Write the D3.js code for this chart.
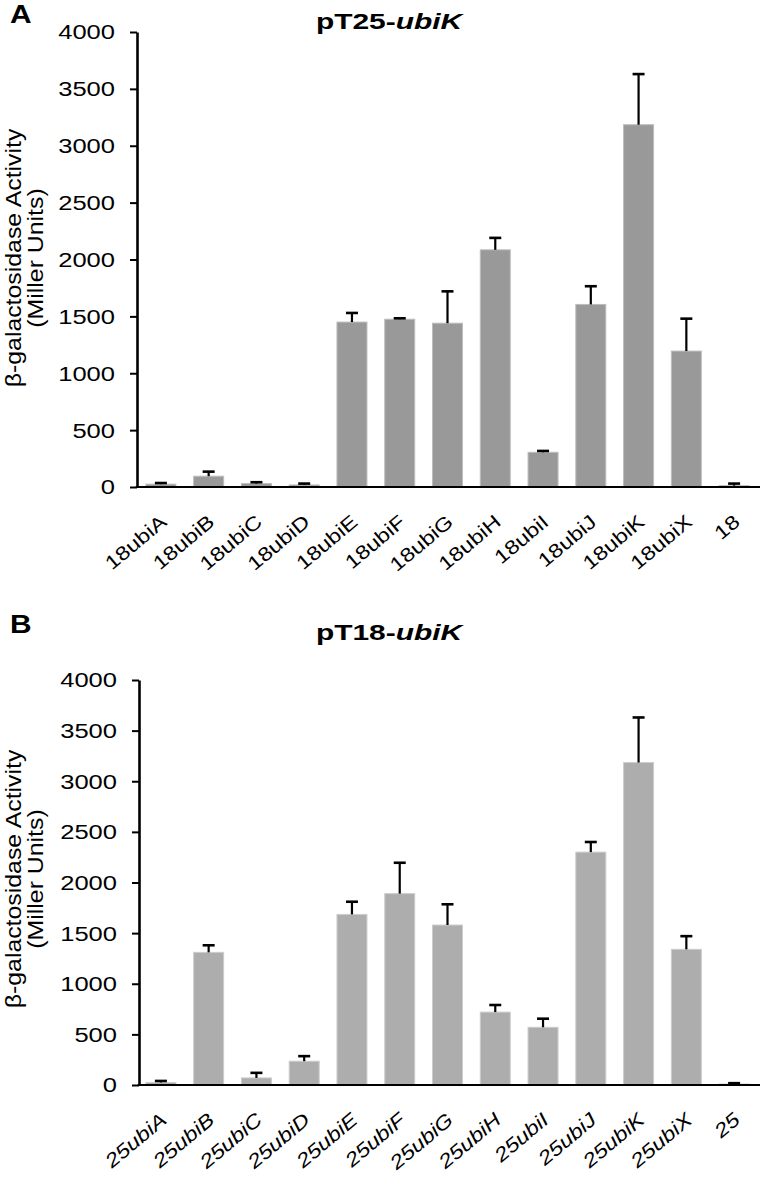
<!DOCTYPE html>
<html>
<head>
<meta charset="utf-8">
<script src="https://cdn.jsdelivr.net/npm/d3@7"></script>
<style>
  html, body { margin: 0; padding: 0; background: #fff; }
  svg { display: block; }
  text { font-family: "Liberation Sans", Arial, sans-serif; fill: #000; }
</style>
</head>
<body>
<svg id="chart" width="760" height="1179"></svg>
<script>
// ---- data ----
const categoriesA = ["18ubiA","18ubiB","18ubiC","18ubiD","18ubiE","18ubiF","18ubiG","18ubiH","18ubiI","18ubiJ","18ubiK","18ubiX","18"];
const valuesA = [25, 95, 30, 18, 1450, 1475, 1440, 2085, 305, 1605, 3185, 1195, 12];
const errorsA = [10, 40, 12, 12, 80, 8, 280, 105, 12, 160, 445, 285, 18];

const categoriesB = ["25ubiA","25ubiB","25ubiC","25ubiD","25ubiE","25ubiF","25ubiG","25ubiH","25ubiI","25ubiJ","25ubiK","25ubiX","25"];
const valuesB = [25, 1310, 70, 235, 1685, 1890, 1580, 720, 570, 2300, 3185, 1340, 10];
const errorsB = [15, 70, 50, 50, 125, 305, 205, 70, 85, 100, 445, 130, 8];

const yTicks = [0, 500, 1000, 1500, 2000, 2500, 3000, 3500, 4000];
const yLabelLines = ["\u03B2-galactosidase Activity", "(Miller Units)"];

const svg = d3.select("#chart");
const FONT = "Liberation Sans, Arial, sans-serif";

function panel(cfg) {
  const g = svg.append("g");
  const x = d3.scaleBand().domain(cfg.categories).range([137, 758]).paddingInner(0.372).paddingOuter(0.186);
  const y = d3.scaleLinear().domain([0, 4000]).range([cfg.y0, cfg.y1]);
  const data = cfg.categories.map((c, i) => ({c, v: cfg.values[i], e: cfg.errors[i]}));

  g.selectAll("rect.bar").data(data).enter().append("rect")
    .attr("class", "bar")
    .attr("x", d => x(d.c))
    .attr("width", x.bandwidth())
    .attr("y", d => y(d.v))
    .attr("height", d => y(0) - y(d.v))
    .attr("fill", cfg.fill)
    .attr("stroke", cfg.edge)
    .attr("stroke-width", 1);

  const eb = g.selectAll("g.err").data(data).enter().append("g").attr("class", "err");
  eb.append("line")
    .attr("x1", d => x(d.c) + x.bandwidth() / 2)
    .attr("x2", d => x(d.c) + x.bandwidth() / 2)
    .attr("y1", d => y(d.v))
    .attr("y2", d => y(d.v + d.e))
    .attr("stroke", "#000").attr("stroke-width", 2.2);
  eb.append("line")
    .attr("x1", d => x(d.c) + x.bandwidth() / 2 - 6)
    .attr("x2", d => x(d.c) + x.bandwidth() / 2 + 6)
    .attr("y1", d => y(d.v + d.e))
    .attr("y2", d => y(d.v + d.e))
    .attr("stroke", "#000").attr("stroke-width", 2.6);

  const ya = g.append("g").attr("transform", `translate(${cfg.axisX},0)`)
    .call(d3.axisLeft(y).tickValues(yTicks).tickSize(7).tickSizeOuter(0).tickFormat(d3.format("d")));
  ya.attr("font-family", FONT);
  ya.select(".domain").attr("stroke", "#000").attr("stroke-width", 2.6);
  ya.selectAll(".tick line").attr("stroke", "#000").attr("stroke-width", 2);
  ya.selectAll(".tick text")
    .attr("x", null).attr("dy", "0.358em")
    .attr("text-anchor", "end")
    .attr("font-size", 19.5)
    .attr("transform", `translate(${-(cfg.axisX - cfg.tickLabelEnd)},0) scale(1.31,1)`);

  g.append("line")
    .attr("x1", cfg.axisX - 1.3).attr("x2", 760)
    .attr("y1", y(0)).attr("y2", y(0))
    .attr("stroke", "#000").attr("stroke-width", 2.2);

  const xa = g.append("g").attr("transform", `translate(0,${y(0)})`)
    .call(d3.axisBottom(x).tickSize(0).tickSizeOuter(0));
  xa.attr("font-family", FONT);
  xa.select(".domain").remove();
  xa.selectAll(".tick text")
    .attr("y", null).attr("dy", null)
    .attr("text-anchor", "end")
    .attr("font-size", 19.5)
    .attr("font-style", cfg.italicLabels ? "italic" : "normal")
    .attr("transform", "translate(7,37) rotate(-40) scale(1.2,1)");

  yLabelLines.forEach((t, i) => {
    g.append("text")
      .attr("text-anchor", "middle")
      .attr("font-size", 21.5)
      .attr("font-family", FONT)
      .attr("transform", `translate(${cfg.ylabX[i]},${cfg.ylabY}) rotate(-90) scale(1.156,1)`)
      .text(t);
  });

  const tt = g.append("text")
    .attr("text-anchor", "middle")
    .attr("font-size", 22)
    .attr("font-weight", "bold")
    .attr("font-family", FONT)
    .attr("transform", `translate(389,${cfg.titleY}) scale(1.36,1)`);
  tt.append("tspan").text(cfg.titlePre);
  tt.append("tspan").attr("font-style", "italic").text(cfg.titleIt);

  svg.append("text")
    .attr("font-size", 26)
    .attr("font-weight", "bold")
    .attr("font-family", FONT)
    .attr("transform", `translate(10,${cfg.letterY}) scale(1.15,1)`)
    .text(cfg.letter);
}

panel({
  categories: categoriesA, values: valuesA, errors: errorsA,
  y0: 487, y1: 32, axisX: 137, tickLabelEnd: 115,
  fill: "#999999", edge: "#bdbdbd", italicLabels: false,
  ylabX: [21, 43], ylabY: 258,
  titleY: 29, titlePre: "pT25-", titleIt: "ubiK",
  letter: "A", letterY: 23
});

panel({
  categories: categoriesB, values: valuesB, errors: errorsB,
  y0: 1085, y1: 680, axisX: 139, tickLabelEnd: 117,
  fill: "#adadad", edge: "#cdcdcd", italicLabels: true,
  ylabX: [21, 43], ylabY: 879,
  titleY: 640, titlePre: "pT18-", titleIt: "ubiK",
  letter: "B", letterY: 633
});
</script>
</body>
</html>
